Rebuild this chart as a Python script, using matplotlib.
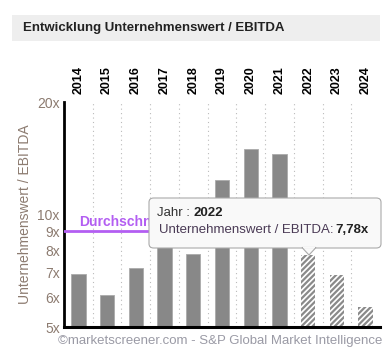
import numpy as np
import matplotlib
matplotlib.use("Agg")
from matplotlib import pyplot as plt
from matplotlib.patches import FancyBboxPatch, Polygon, Rectangle
from matplotlib.ticker import FixedLocator, NullLocator

years = ["2014", "2015", "2016", "2017", "2018", "2019", "2020", "2021", "2022", "2023", "2024"]
ev_ebitda = [6.94, 6.10, 7.17, 8.6, 7.86, 12.4, 14.94, 14.55, 7.78, 6.90, 5.64]
is_estimate = [False] * 8 + [True] * 3
average = 9.02
y_ticks = [5, 6, 7, 8, 9, 10, 20]
y_tick_labels = ["5x", "6x", "7x", "8x", "9x", "10x", "20x"]
hover_year = "2022"
hover_value = "7,78x"

plt.rcParams["font.family"] = ["Liberation Sans", "DejaVu Sans"]
plt.rcParams["hatch.color"] = "#8a8a8a"
plt.rcParams["hatch.linewidth"] = 1.6

fig = plt.figure(figsize=(3.9, 3.55), dpi=100)

# title band
fig.patches.append(Rectangle((12 / 390, 1 - 41 / 355), 368 / 390, 26 / 355,
                             transform=fig.transFigure, facecolor="#eeeeee",
                             edgecolor="none", zorder=0))
fig.text(23 / 390, 1 - 28 / 355, "Entwicklung Unternehmenswert / EBITDA",
         fontsize=9.5, fontweight="bold", color="#222222", va="center")

ax = fig.add_axes([64 / 390, 28 / 355, 316 / 390, 225 / 355])
x = np.arange(len(years))
for xi, val, est in zip(x, ev_ebitda, is_estimate):
    if est:
        ax.bar(xi, val - 5, bottom=5, width=0.5, color="white", edgecolor="#8a8a8a",
               hatch="//////", linewidth=0, zorder=2)
    else:
        ax.bar(xi, val - 5, bottom=5, width=0.5, color="#888888", edgecolor="#aaaaaa",
               linewidth=0.6, zorder=2)

ax.set_yscale("log")
ax.set_ylim(5, 20)
ax.set_xlim(-0.5, len(years) - 0.5)
ax.yaxis.set_major_locator(FixedLocator(y_ticks))
ax.yaxis.set_minor_locator(NullLocator())
ax.set_yticklabels(y_tick_labels, fontsize=10, color="#8c7b70")
ax.tick_params(axis="y", length=0, pad=3)

ax.xaxis.tick_top()
ax.set_xticks(x)
ax.set_xticklabels(years, rotation=90, fontsize=9, fontweight="bold", color="black")
ax.tick_params(axis="x", length=0, pad=6)

for b in np.arange(0.5, len(years) - 1, 1.0):
    ax.axvline(b, color="#bbbbbb", linestyle=(0, (1, 3)), linewidth=0.8, zorder=1)

for side in ["top", "right"]:
    ax.spines[side].set_visible(False)
ax.spines["left"].set_linewidth(2)
ax.spines["bottom"].set_linewidth(2.2)
ax.spines["left"].set_color("black")
ax.spines["bottom"].set_color("black")

ax.set_ylabel("Unternehmenswert / EBITDA", fontsize=10, color="#8c7b70", labelpad=4)

ax.axhline(average, color="#b35ef2", linewidth=2, zorder=3)
ax.text(0.04, average * 1.015, "Durchschnitt", color="#b35ef2", fontsize=10,
        fontweight="bold", va="bottom", ha="left", zorder=3)

# hover tooltip
tip = FancyBboxPatch((149 / 390, 107 / 355), 232 / 390, 50 / 355,
                     boxstyle="round,pad=0,rounding_size=0.012",
                     transform=fig.transFigure, facecolor="#f9f9f9",
                     edgecolor="#aaaaaa", linewidth=0.8, zorder=10)
fig.patches.append(tip)
fig.patches.append(Polygon([(302 / 390, 107.5 / 355), (316 / 390, 107.5 / 355),
                            (309 / 390, 100 / 355)], closed=True,
                           transform=fig.transFigure, facecolor="#f9f9f9",
                           edgecolor="#aaaaaa", linewidth=0.8, zorder=10))
fig.patches.append(Rectangle((302.6 / 390, 106.6 / 355), 12.8 / 390, 1.4 / 355,
                             transform=fig.transFigure, facecolor="#f9f9f9",
                             edgecolor="none", zorder=11))
fig.text(157 / 390, 1 - 213 / 355, "Jahr : ", fontsize=9.5, color="#333333",
         va="center", zorder=12)
fig.text(194 / 390, 1 - 213 / 355, hover_year, fontsize=9.5, fontweight="bold",
         color="#222222", va="center", zorder=12)
fig.text(159 / 390, 1 - 230 / 355, "Unternehmenswert / EBITDA:", fontsize=9.5,
         color="#4a3a55", va="center", zorder=12)
fig.text(335 / 390, 1 - 230 / 355, hover_value, fontsize=9.5, fontweight="bold",
         color="#222222", va="center", zorder=12)

fig.text(58 / 390, 1 - 341 / 355, "©marketscreener.com - S&P Global Market Intelligence",
         fontsize=9.5, color="#9a9aa5", va="center")

fig.savefig("out.png", dpi=100)
